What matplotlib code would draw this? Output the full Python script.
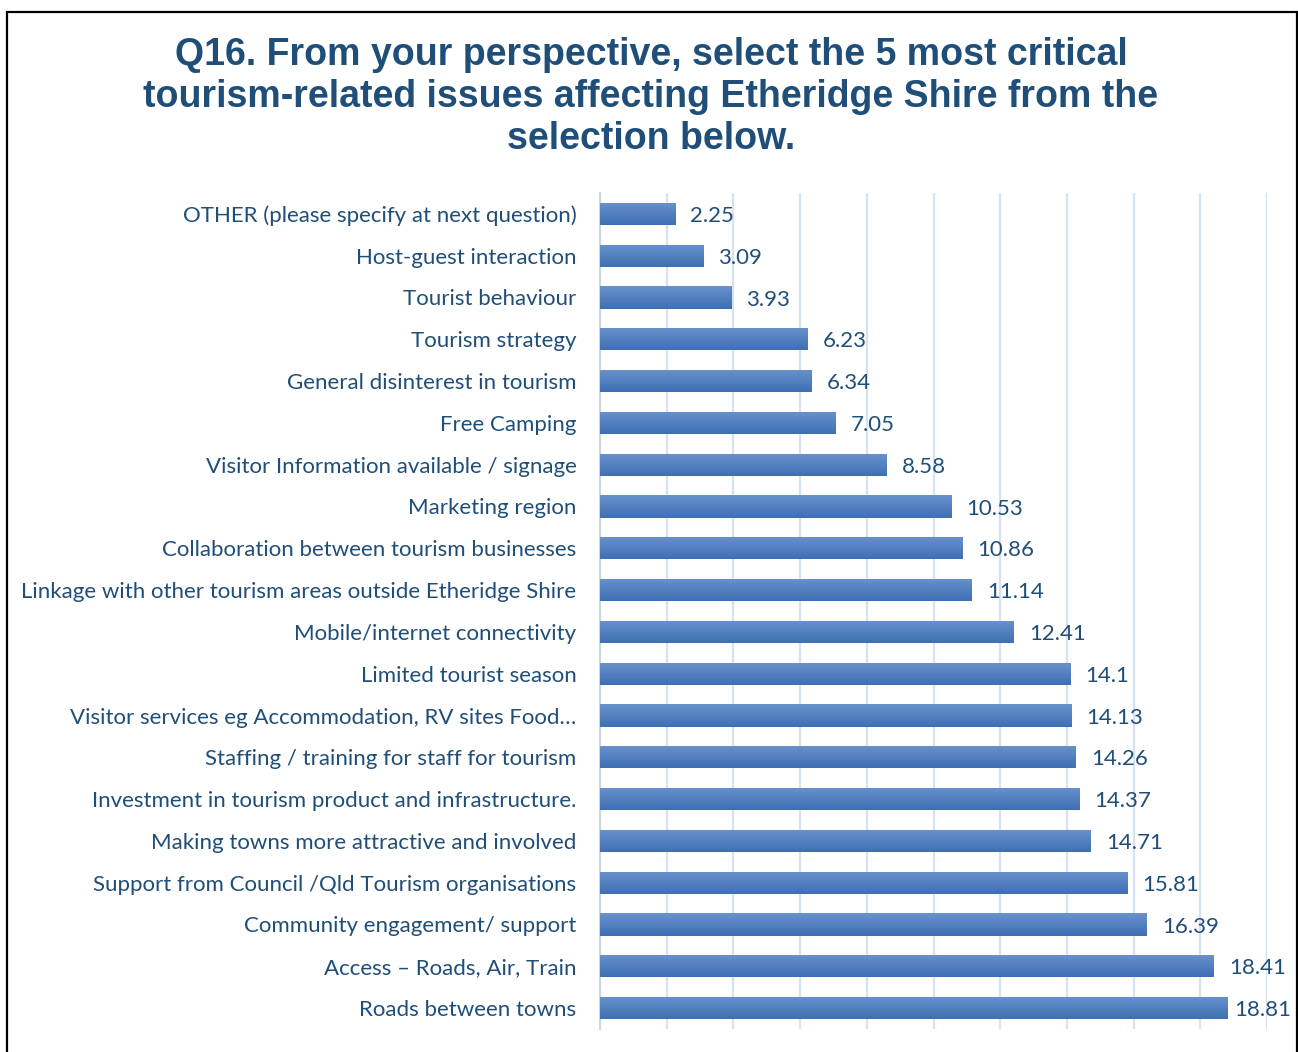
import matplotlib.pyplot as plt
import matplotlib.patches as mpatches
import matplotlib.ticker as ticker
import numpy as np
from matplotlib.colors import LinearSegmentedColormap
from matplotlib.transforms import offset_copy

# survey results, top of chart first
issues = [
    'OTHER (please specify at next question)',
    'Host-guest interaction',
    'Tourist behaviour',
    'Tourism strategy',
    'General disinterest in tourism',
    'Free Camping',
    'Visitor Information available / signage',
    'Marketing region',
    'Collaboration between tourism businesses',
    'Linkage with other tourism areas outside Etheridge Shire',
    'Mobile/internet connectivity',
    'Limited tourist season',
    'Visitor services eg Accommodation, RV sites Food…',
    'Staffing / training for staff for tourism',
    'Investment in tourism product and infrastructure.',
    'Making towns more attractive and involved',
    'Support from Council /Qld Tourism organisations',
    'Community engagement/ support',
    'Access – Roads, Air, Train',
    'Roads between towns',
]
scores = [2.25, 3.09, 3.93, 6.23, 6.34, 7.05, 8.58, 10.53, 10.86, 11.14,
          12.41, 14.1, 14.13, 14.26, 14.37, 14.71, 15.81, 16.39, 18.41, 18.81]
score_labels = ['2.25', '3.09', '3.93', '6.23', '6.34', '7.05', '8.58', '10.53',
                '10.86', '11.14', '12.41', '14.1', '14.13', '14.26', '14.37',
                '14.71', '15.81', '16.39', '18.41', '18.81']

TITLE = ('Q16. From your perspective, select the 5 most critical\n'
         'tourism-related issues affecting Etheridge Shire from the\n'
         'selection below.')

W, H = 1298, 1052
TEXT_BLUE = '#1f4e79'
GRID_BLUE = '#d6e1f2'
label_font = ['Lato', 'DejaVu Sans']

fig = plt.figure(figsize=(W / 100, H / 100), dpi=100)
fig.patch.set_facecolor('white')

# outer frame
fig.patches.append(mpatches.Rectangle(
    (7 / W, -0.01), (1297 - 7) / W, 1.01 - 12 / H,
    transform=fig.transFigure, fill=False, edgecolor='black', linewidth=1.6))

fig.text(651 / W, 1 - 97 / H, TITLE, ha='center', va='center',
         fontsize=27, fontweight='bold', color=TEXT_BLUE,
         family='Liberation Sans', linespacing=1.23)

ax = fig.add_axes([600 / W, 1 - 1029 / H, (1267 - 600) / W, (1029 - 193) / H])

y = np.arange(len(issues))
bars = ax.barh(y, scores, height=0.53, color='#5582c4', zorder=2)

# vertical gradient on each bar, lighter on top
grad = LinearSegmentedColormap.from_list('bar', ['#6a92cc', '#3e6fb4'])
gimg = np.linspace(0, 1, 64).reshape(-1, 1)
for bar in bars:
    x0, y0 = bar.get_x(), bar.get_y()
    w, h = bar.get_width(), bar.get_height()
    im = ax.imshow(gimg, cmap=grad, aspect='auto', extent=(x0, x0 + w, y0 + h, y0),
                   zorder=3, interpolation='bilinear')
    im.set_clip_path(bar)

ax.set_xlim(0, 20)
ax.set_ylim(len(issues) - 0.5, -0.5)

# value labels; any that would run past the frame get pulled back in
renderer = fig.canvas.get_renderer()
right_limit = 1291
for yi, v, txt in zip(y, scores, score_labels):
    t = ax.text(v, yi, txt, ha='left', va='center', fontsize=16,
                color=TEXT_BLUE, family=label_font,
                transform=offset_copy(ax.transData, fig=fig, x=11, y=-1.5,
                                      units='points'))
    bb = t.get_window_extent(renderer)
    if bb.x1 > right_limit:
        shift = (bb.x1 - right_limit) * 72 / fig.dpi
        t.set_transform(offset_copy(ax.transData, fig=fig, x=11 - shift,
                                    y=-1.5, units='points'))

ax.xaxis.set_major_locator(ticker.MultipleLocator(2))
ax.grid(True, axis='x', color=GRID_BLUE, linewidth=1.6, zorder=0)
ax.set_axisbelow(True)
ax.set_xticklabels([])
ax.tick_params(axis='both', length=0)
ax.set_yticks(y)
ax.set_yticklabels(issues, fontsize=16, color=TEXT_BLUE, family=label_font)
ax.tick_params(axis='y', pad=17)
for side in ('top', 'right', 'bottom'):
    ax.spines[side].set_visible(False)
ax.spines['left'].set_color('#c5d5ec')
ax.spines['left'].set_linewidth(1.4)

fig.savefig('out.png', dpi=100, facecolor='white')
